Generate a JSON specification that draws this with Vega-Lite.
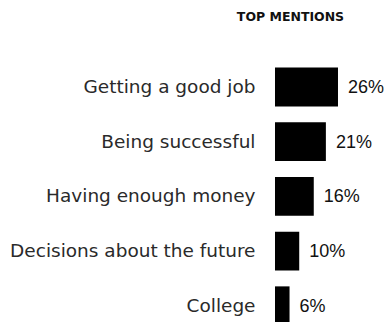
{
  "$schema": "https://vega.github.io/schema/vega-lite/v6.json",
  "autosize": "none",
  "width": 63,
  "height": 273.5,
  "padding": {"left": 275, "top": 59.65, "right": 48, "bottom": 0},
  "background": "white",
  "title": {
    "text": "TOP MENTIONS",
    "font": "DejaVu Sans",
    "fontSize": 12.5,
    "fontWeight": 600,
    "color": "#111",
    "anchor": "middle",
    "frame": "group",
    "dx": -16,
    "offset": 36
  },
  "data": {
    "values": [
      {"item": "Getting a good job", "share": 0.26},
      {"item": "Being successful", "share": 0.21},
      {"item": "Having enough money", "share": 0.16},
      {"item": "Decisions about the future", "share": 0.10},
      {"item": "College", "share": 0.06}
    ]
  },
  "encoding": {
    "y": {
      "field": "item",
      "type": "nominal",
      "sort": null,
      "scale": {"paddingInner": 0.29, "paddingOuter": 0.145},
      "axis": {
        "title": null,
        "domain": false,
        "ticks": false,
        "labelPadding": 20,
        "labelFont": "DejaVu Sans",
        "labelFontSize": 18.5,
        "labelColor": "#2a2a2a",
        "labelLimit": 400
      }
    },
    "x": {
      "field": "share",
      "type": "quantitative",
      "scale": {"domain": [0, 0.26]},
      "axis": null
    }
  },
  "layer": [
    {"mark": {"type": "bar", "color": "#000"}},
    {
      "mark": {
        "type": "text",
        "align": "left",
        "dx": 10,
        "dy": 1,
        "font": "Liberation Sans",
        "fontSize": 18,
        "color": "#111"
      },
      "encoding": {"text": {"field": "share", "type": "quantitative", "format": ".0%"}}
    }
  ],
  "config": {"view": {"stroke": null}}
}
